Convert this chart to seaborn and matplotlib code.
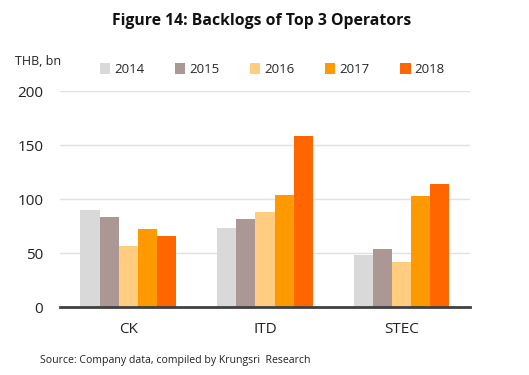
import matplotlib
matplotlib.use("Agg")
import matplotlib.pyplot as plt
import seaborn as sns
import pandas as pd

companies = ["CK", "ITD", "STEC"]
years = ["2014", "2015", "2016", "2017", "2018"]
v2014 = [90, 73, 48]
v2015 = [83, 81.5, 54]
v2016 = [56.5, 88, 42]
v2017 = [72, 104, 103]
v2018 = [66, 158, 114]
colors = ["#D9D9D9", "#AB9794", "#FFCC80", "#FF9900", "#FF6600"]

rows = []
for y, vals in zip(years, [v2014, v2015, v2016, v2017, v2018]):
    for c, v in zip(companies, vals):
        rows.append({"Company": c, "Year": y, "Value": v})
df = pd.DataFrame(rows)

sns.set_style("white")
plt.rcParams["font.family"] = ["Open Sans", "DejaVu Sans"]

fig = plt.figure(figsize=(5.29, 3.75), dpi=100)
ax = fig.add_axes([0.1134, 0.181, 0.775, 0.576])
sns.barplot(data=df, x="Company", y="Value", hue="Year", palette=colors,
            width=0.70, saturation=1, ax=ax, linewidth=0)

ax.set_ylim(0, 200)
ax.set_yticks([0, 50, 100, 150, 200])
ax.yaxis.grid(True, color="#E0E0E0", linewidth=1)
ax.set_axisbelow(True)
for s in ["top", "right", "left"]:
    ax.spines[s].set_visible(False)
ax.spines["bottom"].set_color("#404040")
ax.spines["bottom"].set_linewidth(2)
ax.set_xlabel("")
ax.set_ylabel("")
ax.tick_params(axis="y", length=0, labelsize=11, colors="#222222", pad=12)
ax.tick_params(axis="x", length=0, labelsize=11, colors="#222222", pad=11)

ax.legend(loc="lower left", bbox_to_anchor=(0.084, 1.045), ncol=5, frameon=False,
          fontsize=9.5, handlelength=0.8, handleheight=0.8, handletextpad=0.3,
          columnspacing=2.3, borderaxespad=0)

fig.text(0.495, 0.945, "Figure 14: Backlogs of Top 3 Operators", ha="center", va="center",
         fontsize=11.3, fontweight="bold", color="#111111")
fig.text(0.028, 0.835, "THB, bn", ha="left", va="center", fontsize=9, color="#222222")
fig.text(0.076, 0.04, "Source: Company data, compiled by Krungsri  Research", ha="left",
         va="center", fontsize=7.6, color="#222222")

fig.savefig("out.png", dpi=100)
